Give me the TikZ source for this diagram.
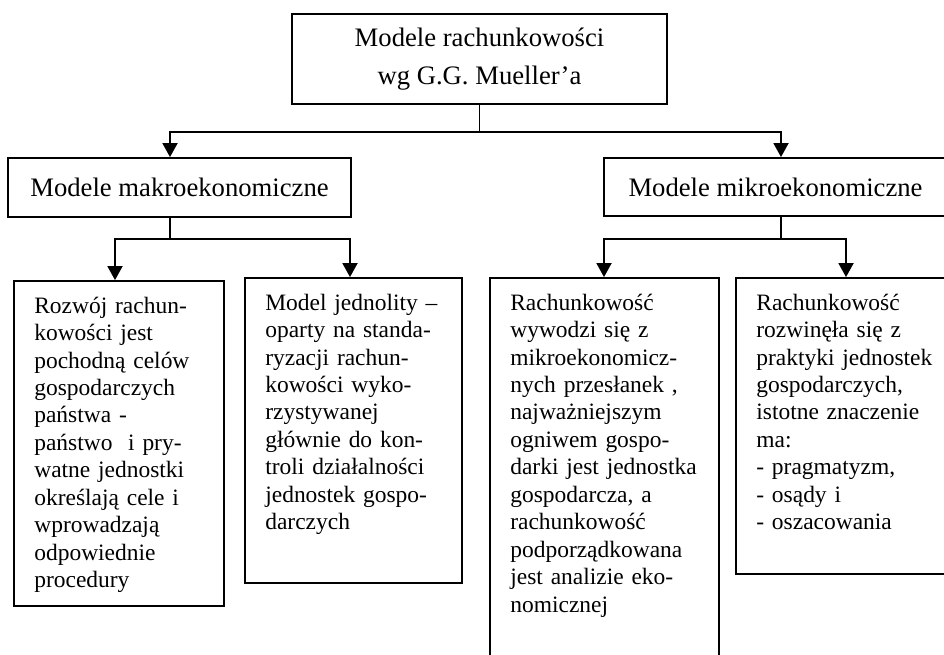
\documentclass[tikz,border=0pt]{standalone}
\usepackage{fontspec}
\setmainfont{Liberation Serif}
\usetikzlibrary{arrows.meta, positioning, calc}

\begin{document}
\begin{tikzpicture}[x=0.75pt, y=-0.75pt,
        box/.style={draw, line width=1.4pt, inner sep=0pt, align=center},
        leaf/.style={draw, line width=1.4pt, inner sep=0pt},
        leaftext/.style={inner sep=0pt, text width=190pt, align=left, anchor=base west,
            font=\fontsize{17.6}{20.6}\selectfont},
        link/.style={line width=1.4pt},
        arr/.style={line width=1.4pt, -{Triangle[width=11.25pt, length=10.5pt]}}]
        \useasboundingbox (0,0) rectangle (944,654);
        % hierarchy boxes
        \node[box, minimum width=281.25pt, minimum height=67.5pt,
            font=\fontsize{20}{24}\selectfont] (root) at (479.5,59) {Modele rachunkowości\\[4pt]wg G.G. Mueller’a};
        \node[box, minimum width=257.25pt, minimum height=44.25pt,
            font=\fontsize{20}{24}\selectfont] (makro) at (179.5,187.5) {Modele makroekonomiczne};
        \node[box, minimum width=257.25pt, minimum height=43.5pt,
            font=\fontsize{20}{24}\selectfont] (mikro) at (775.5,187) {Modele mikroekonomiczne};
        \node[leaf, minimum width=157.5pt, minimum height=243.75pt] (rozwoj) at (119,443.5) {};
        \node[leaf, minimum width=162.75pt, minimum height=228.75pt] (jednolity) at (353.5,430.5) {};
        \node[leaf, minimum width=171.75pt, minimum height=286.5pt] (przeslanki) at (604.5,469) {};
        \node[leaf, minimum width=160.5pt, minimum height=222pt] (praktyka) at (843,426) {};
        % texts of the lower boxes
        \node[leaftext] (rozwojtxt) at ($(rozwoj.north west)+(21,33)$)
            {Rozwój rachun-\\kowości jest\\pochodną celów\\gospodarczych\\państwa -\\państwo\ \ i pry-\\watne jednostki\\określają cele i\\wprowadzają\\odpowiednie\\procedury};
        \node[leaftext] (jednolitytxt) at ($(jednolity.north west)+(21,33)$)
            {Model jednolity –\\oparty na standa-\\ryzacji rachun-\\kowości wyko-\\rzystywanej\\głównie do kon-\\troli działalności\\jednostek gospo-\\darczych};
        \node[leaftext] (przeslankitxt) at ($(przeslanki.north west)+(21,33)$)
            {Rachunkowość\\wywodzi się z\\mikroekonomicz-\\nych przesłanek ,\\najważniejszym\\ogniwem gospo-\\darki jest jednostka\\gospodarcza, a\\rachunkowość\\podporządkowana\\jest analizie eko-\\nomicznej};
        \node[leaftext] (praktykatxt) at ($(praktyka.north west)+(21,33)$)
            {Rachunkowość\\rozwinęła się z\\praktyki jednostek\\gospodarczych,\\istotne znaczenie\\ma:\\- pragmatyzm,\\- osądy i\\- oszacowania};
        % connectors
        \coordinate (rootsplit) at ($(root.south)+(0,27)$);
        \coordinate (makrosplit) at ($(makro.south)+(-9.5,21)$);
        \coordinate (mikrosplit) at ($(mikro.south)+(5.5,22)$);
        \draw[link] (root.south) -- (rootsplit);
        \draw[arr] (rootsplit) -| ($(makro.north)+(-9.5,0)$);
        \draw[arr] (rootsplit) -| ($(mikro.north)+(5.5,0)$);
        \draw[link] ($(makro.south)+(-9.5,0)$) -- (makrosplit);
        \draw[arr] (makrosplit) -| ($(rozwoj.north)+(-4,0)$);
        \draw[arr] (makrosplit) -| ($(jednolity.north)+(-3.5,0)$);
        \draw[link] ($(mikro.south)+(5.5,0)$) -- (mikrosplit);
        \draw[arr] (mikrosplit) -| ($(przeslanki.north)+(-0.5,0)$);
        \draw[arr] (mikrosplit) -| ($(praktyka.north)+(3,0)$);
    \end{tikzpicture}
\end{document}
